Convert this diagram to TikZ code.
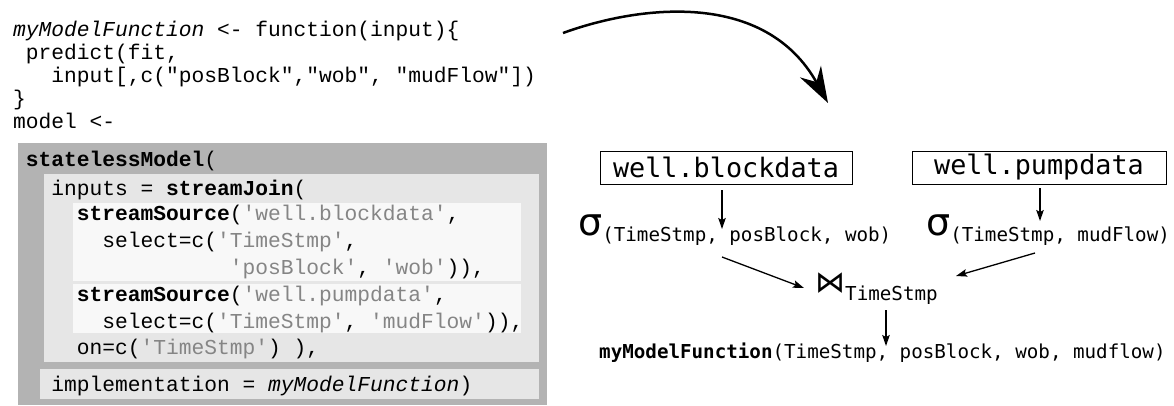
\documentclass[tikz,border=0pt]{standalone}
\usepackage{fontspec}
\setmonofont{Liberation Mono}
\newfontfamily\relfont{DejaVu Sans Mono}
\newfontfamily\symfont{DejaVu Sans}
\usetikzlibrary{arrows.meta}

\definecolor{outergray}{HTML}{B3B3B3}
\definecolor{midgray}{HTML}{E6E6E6}
\definecolor{innergray}{HTML}{F8F8F8}
\definecolor{strcol}{HTML}{858585}

\newcommand{\str}[1]{\textcolor{strcol}{#1}}
\newcommand{\kw}[1]{\textbf{#1}}

\tikzset{
  codeline/.style={anchor=base west, inner sep=0pt,
    font=\ttfamily\fontsize{21.25}{21.25}\selectfont},
  relbox/.style={draw, line width=0.9pt, inner sep=0pt, minimum height=33pt,
    font=\relfont\fontsize{26.8}{26.8}\selectfont},
  reltext/.style={anchor=base west, inner sep=0pt,
    font=\relfont\fontsize{19.2}{19.2}\selectfont},
  arr/.style={line width=1.3pt, -{Stealth[length=11pt,width=7.5pt,inset=2pt]}},
  bigarr/.style={line width=2.5pt, -{Stealth[length=36pt,width=24pt,inset=12pt]}}
}

\newcommand{\sig}{{\symfont\fontsize{38}{38}\selectfont σ}}
\newcommand{\lowered}[1]{\raisebox{-6pt}{#1}}

\begin{document}
\begin{tikzpicture}[x=1pt,y=-1pt]
\useasboundingbox (0,0) rectangle (1174,405);

% nested shaded panels behind the model definition
\fill[outergray] (18,143) rectangle (547,405);
\fill[midgray]   (44,174) rectangle (539,362);
\fill[innergray] (73,203) rectangle (521,281);
\fill[innergray] (73,284) rectangle (521,333);
\fill[midgray]   (40,369) rectangle (539,399);

% R code, one node per line (column width 12.75pt)
\node[codeline] (l1)  at (13,36)  {\itshape myModelFunction\upshape{} <- function(input)\{};
\node[codeline] (l2)  at (25.75,59)  {predict(fit,};
\node[codeline] (l3)  at (51.25,82)  {input[,c("posBlock","wob", "mudFlow"])};
\node[codeline] (l4)  at (13,105) {\}};
\node[codeline] (l5)  at (13,128) {model <-};
\node[codeline] (l6)  at (25.75,166) {\kw{statelessModel}(};
\node[codeline] (l7)  at (51.25,195) {inputs = \kw{streamJoin}(};
\node[codeline] (l8)  at (76.75,220) {\kw{streamSource}(\str{'well.blockdata'},};
\node[codeline] (l9)  at (102.25,247) {select=c(\str{'TimeStmp'},};
\node[codeline] (l10) at (229.75,274) {\str{'posBlock'}, \str{'wob'})),};
\node[codeline] (l11) at (76.75,301) {\kw{streamSource}(\str{'well.pumpdata'},};
\node[codeline] (l12) at (102.25,328) {select=c(\str{'TimeStmp'}, \str{'mudFlow'})),};
\node[codeline] (l13) at (76.75,354) {on=c(\str{'TimeStmp'}) ),};
\node[codeline] (l14) at (51.25,391) {implementation = \textit{myModelFunction})};

% relational plan
\node[relbox, minimum width=252pt] (b1) at (726,167.5) {well.blockdata};
\node[relbox, minimum width=254pt] (b2) at (1039,167.5) {well.pumpdata};

\node[reltext] (s1) at (578,235) {\sig\lowered{(TimeStmp, posBlock, wob)}};
\node[reltext] (s2) at (926,235) {\sig\lowered{(TimeStmp, mudFlow)}};

\node[reltext] (j) at (815,292) {{\symfont\fontsize{30}{30}\selectfont ⋈}\raisebox{-8pt}{TimeStmp}};

\node[reltext] (f) at (599,358) {\textbf{myModelFunction}(TimeStmp, posBlock, wob, mudflow)};

% connector end points
\coordinate (a1s) at (722,190);
\coordinate (a1e) at (722,229);
\coordinate (a2s) at (1040,188);
\coordinate (a2e) at (1040,221);
\coordinate (a3s) at (722,257);
\coordinate (a3e) at (804,288);
\coordinate (a4s) at (1035,253);
\coordinate (a4e) at (956,276);
\coordinate (a5s) at (886,310);
\coordinate (a5e) at (886,346);

\draw[arr] (a1s) -- (a1e);
\draw[arr] (a2s) -- (a2e);
\draw[arr] (a3s) -- (a3e);
\draw[arr] (a4s) -- (a4e);
\draw[arr] (a5s) -- (a5e);

% curved arrow from the code to the plan
\coordinate (c0) at (563,33);
\coordinate (c1) at (828,103);
\draw[bigarr] (c0) .. controls (640,5) and (765,-10) .. (c1);
\end{tikzpicture}
\end{document}
